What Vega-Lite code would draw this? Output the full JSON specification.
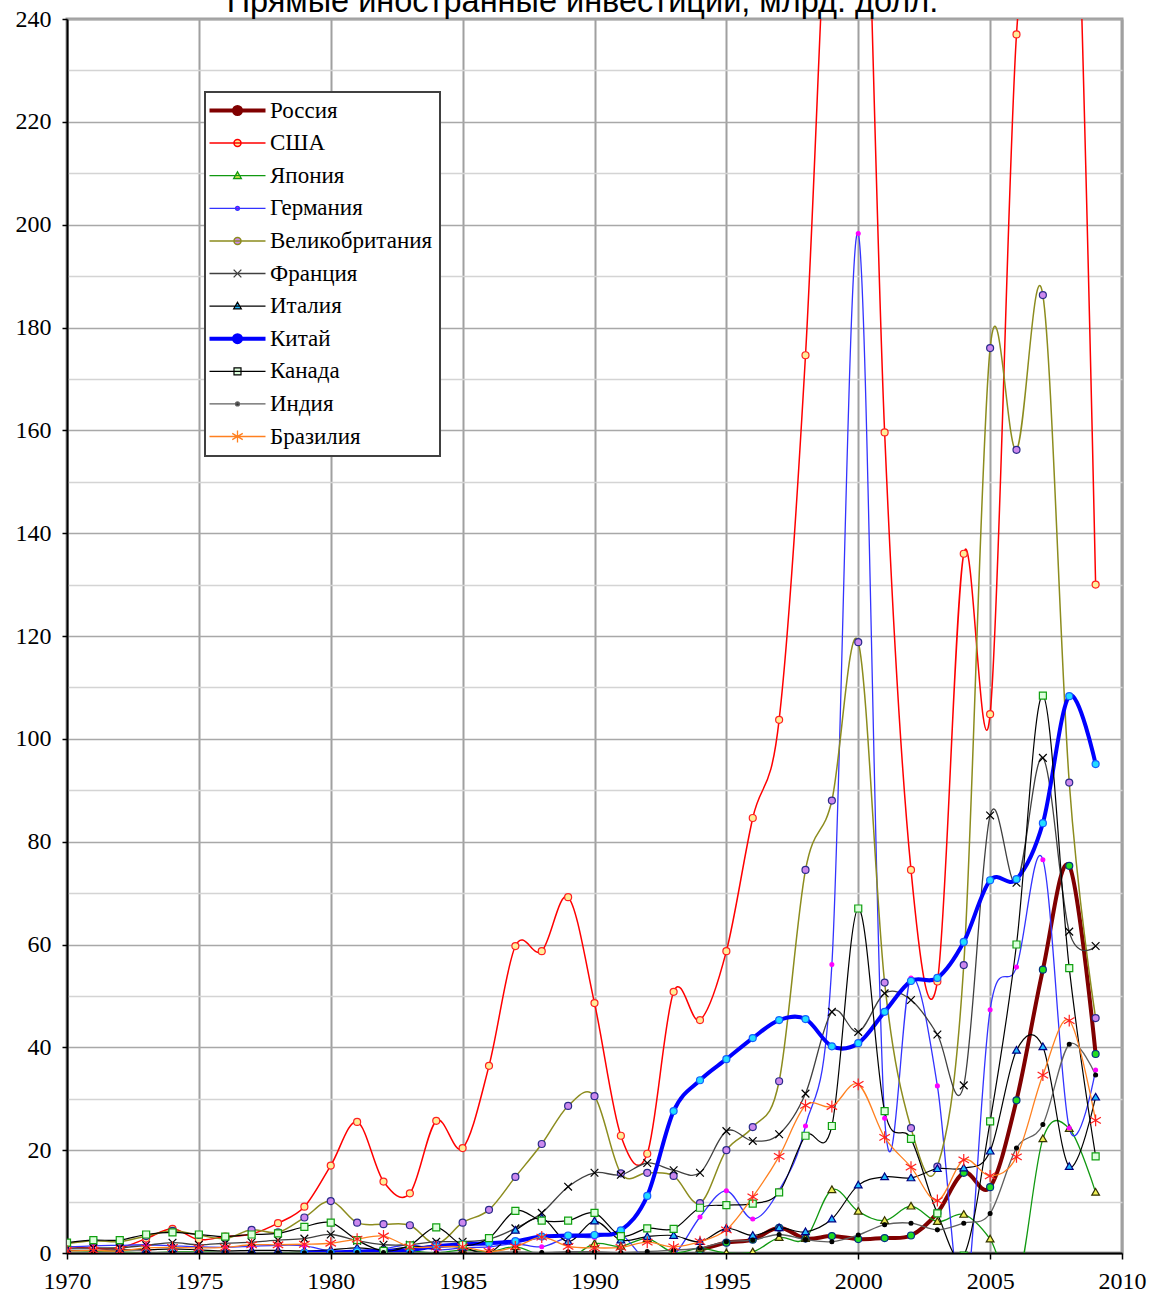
{
  "$schema": "https://vega.github.io/schema/vega-lite/v6.json",
  "width": 1055,
  "height": 1234,
  "autosize": {"type": "none"},
  "padding": {"left": 67, "top": 19, "right": 29, "bottom": 43},
  "background": "white",
  "config": {
    "view": {"stroke": "#a0a0a0", "strokeWidth": 3},
    "axis": {"labelFont": "Liberation Serif", "labelFontSize": 24, "labelColor": "#000000", "domainColor": "#000000", "domainWidth": 2, "tickColor": "#000000", "title": null}
  },
  "resolve": {"scale": {"shape": "independent"}},
  "data": {"values": [
    {"country":"Россия","year":1994,"value":0.6},{"country":"Россия","year":1995,"value":2.0},{"country":"Россия","year":1996,"value":2.6},{"country":"Россия","year":1997,"value":4.9},{"country":"Россия","year":1998,"value":2.8},{"country":"Россия","year":1999,"value":3.3},{"country":"Россия","year":2000,"value":2.7},{"country":"Россия","year":2001,"value":2.9},{"country":"Россия","year":2002,"value":3.4},{"country":"Россия","year":2003,"value":7.8},{"country":"Россия","year":2004,"value":15.6},{"country":"Россия","year":2005,"value":12.8},{"country":"Россия","year":2006,"value":29.7},{"country":"Россия","year":2007,"value":55.1},{"country":"Россия","year":2008,"value":75.3},{"country":"Россия","year":2009,"value":38.7},

    {"country":"США","year":1970,"value":1.3},{"country":"США","year":1971,"value":0.9},{"country":"США","year":1972,"value":1.0},{"country":"США","year":1973,"value":2.8},{"country":"США","year":1974,"value":4.7},{"country":"США","year":1975,"value":2.6},{"country":"США","year":1976,"value":3.2},{"country":"США","year":1977,"value":3.7},{"country":"США","year":1978,"value":5.8},{"country":"США","year":1979,"value":9.0},{"country":"США","year":1980,"value":17.0},{"country":"США","year":1981,"value":25.5},{"country":"США","year":1982,"value":13.9},{"country":"США","year":1983,"value":11.6},{"country":"США","year":1984,"value":25.7},{"country":"США","year":1985,"value":20.4},{"country":"США","year":1986,"value":36.4},{"country":"США","year":1987,"value":59.7},{"country":"США","year":1988,"value":58.7},{"country":"США","year":1989,"value":69.2},{"country":"США","year":1990,"value":48.6},{"country":"США","year":1991,"value":22.8},{"country":"США","year":1992,"value":19.3},{"country":"США","year":1993,"value":50.8},{"country":"США","year":1994,"value":45.3},{"country":"США","year":1995,"value":58.7},{"country":"США","year":1996,"value":84.6},{"country":"США","year":1997,"value":103.7},{"country":"США","year":1998,"value":174.6},{"country":"США","year":1999,"value":283},{"country":"США","year":2000,"value":314},{"country":"США","year":2001,"value":159.6},{"country":"США","year":2002,"value":74.5},{"country":"США","year":2003,"value":52.8},{"country":"США","year":2004,"value":136.0},{"country":"США","year":2005,"value":104.8},{"country":"США","year":2006,"value":237.0},{"country":"США","year":2007,"value":266},{"country":"США","year":2008,"value":310},{"country":"США","year":2009,"value":130.0},

    {"country":"Япония","year":1970,"value":0.1},{"country":"Япония","year":1971,"value":0.2},{"country":"Япония","year":1972,"value":0.2},{"country":"Япония","year":1973,"value":0.0},{"country":"Япония","year":1974,"value":0.2},{"country":"Япония","year":1975,"value":0.2},{"country":"Япония","year":1976,"value":0.1},{"country":"Япония","year":1977,"value":0.0},{"country":"Япония","year":1978,"value":0.0},{"country":"Япония","year":1979,"value":0.2},{"country":"Япония","year":1980,"value":0.3},{"country":"Япония","year":1981,"value":0.2},{"country":"Япония","year":1982,"value":0.4},{"country":"Япония","year":1983,"value":0.4},{"country":"Япония","year":1984,"value":0.0},{"country":"Япония","year":1985,"value":0.6},{"country":"Япония","year":1986,"value":0.2},{"country":"Япония","year":1987,"value":1.2},{"country":"Япония","year":1988,"value":-0.5},{"country":"Япония","year":1989,"value":-1.1},{"country":"Япония","year":1990,"value":1.8},{"country":"Япония","year":1991,"value":1.3},{"country":"Япония","year":1992,"value":2.8},{"country":"Япония","year":1993,"value":0.1},{"country":"Япония","year":1994,"value":0.9},{"country":"Япония","year":1995,"value":0.0},{"country":"Япония","year":1996,"value":0.2},{"country":"Япония","year":1997,"value":3.0},{"country":"Япония","year":1998,"value":2.8},{"country":"Япония","year":1999,"value":12.3},{"country":"Япония","year":2000,"value":8.1},{"country":"Япония","year":2001,"value":6.3},{"country":"Япония","year":2002,"value":9.1},{"country":"Япония","year":2003,"value":6.1},{"country":"Япония","year":2004,"value":7.5},{"country":"Япония","year":2005,"value":2.7},{"country":"Япония","year":2006,"value":-6.5},{"country":"Япония","year":2007,"value":22.2},{"country":"Япония","year":2008,"value":24.2},{"country":"Япония","year":2009,"value":11.8},

    {"country":"Германия","year":1970,"value":1.2},{"country":"Германия","year":1971,"value":1.4},{"country":"Германия","year":1972,"value":1.5},{"country":"Германия","year":1973,"value":1.6},{"country":"Германия","year":1974,"value":1.4},{"country":"Германия","year":1975,"value":1.2},{"country":"Германия","year":1976,"value":1.1},{"country":"Германия","year":1977,"value":1.3},{"country":"Германия","year":1978,"value":1.5},{"country":"Германия","year":1979,"value":1.4},{"country":"Германия","year":1980,"value":0.4},{"country":"Германия","year":1981,"value":0.4},{"country":"Германия","year":1982,"value":0.8},{"country":"Германия","year":1983,"value":1.6},{"country":"Германия","year":1984,"value":0.6},{"country":"Германия","year":1985,"value":1.0},{"country":"Германия","year":1986,"value":1.2},{"country":"Германия","year":1987,"value":1.8},{"country":"Германия","year":1988,"value":1.2},{"country":"Германия","year":1989,"value":3.0},{"country":"Германия","year":1990,"value":3.0},{"country":"Германия","year":1991,"value":3.6},{"country":"Германия","year":1992,"value":-1.4},{"country":"Германия","year":1993,"value":-0.4},{"country":"Германия","year":1994,"value":7.0},{"country":"Германия","year":1995,"value":12.1},{"country":"Германия","year":1996,"value":6.6},{"country":"Германия","year":1997,"value":12.2},{"country":"Германия","year":1998,"value":24.7},{"country":"Германия","year":1999,"value":56.1},{"country":"Германия","year":2000,"value":198.3},{"country":"Германия","year":2001,"value":26.2},{"country":"Германия","year":2002,"value":53.5},{"country":"Германия","year":2003,"value":32.5},{"country":"Германия","year":2004,"value":-10.2},{"country":"Германия","year":2005,"value":47.3},{"country":"Германия","year":2006,"value":55.6},{"country":"Германия","year":2007,"value":76.5},{"country":"Германия","year":2008,"value":24.3},{"country":"Германия","year":2009,"value":35.6},

    {"country":"Великобритания","year":1970,"value":1.8},{"country":"Великобритания","year":1971,"value":2.4},{"country":"Великобритания","year":1972,"value":2.2},{"country":"Великобритания","year":1973,"value":3.3},{"country":"Великобритания","year":1974,"value":4.3},{"country":"Великобритания","year":1975,"value":3.5},{"country":"Великобритания","year":1976,"value":2.8},{"country":"Великобритания","year":1977,"value":4.5},{"country":"Великобритания","year":1978,"value":4.0},{"country":"Великобритания","year":1979,"value":6.9},{"country":"Великобритания","year":1980,"value":10.1},{"country":"Великобритания","year":1981,"value":5.9},{"country":"Великобритания","year":1982,"value":5.6},{"country":"Великобритания","year":1983,"value":5.4},{"country":"Великобритания","year":1984,"value":1.8},{"country":"Великобритания","year":1985,"value":5.9},{"country":"Великобритания","year":1986,"value":8.4},{"country":"Великобритания","year":1987,"value":14.8},{"country":"Великобритания","year":1988,"value":21.2},{"country":"Великобритания","year":1989,"value":28.6},{"country":"Великобритания","year":1990,"value":30.5},{"country":"Великобритания","year":1991,"value":15.5},{"country":"Великобритания","year":1992,"value":15.6},{"country":"Великобритания","year":1993,"value":15.0},{"country":"Великобритания","year":1994,"value":9.7},{"country":"Великобритания","year":1995,"value":20.0},{"country":"Великобритания","year":1996,"value":24.5},{"country":"Великобритания","year":1997,"value":33.4},{"country":"Великобритания","year":1998,"value":74.5},{"country":"Великобритания","year":1999,"value":88.0},{"country":"Великобритания","year":2000,"value":118.8},{"country":"Великобритания","year":2001,"value":52.6},{"country":"Великобритания","year":2002,"value":24.3},{"country":"Великобритания","year":2003,"value":16.8},{"country":"Великобритания","year":2004,"value":56.0},{"country":"Великобритания","year":2005,"value":176.0},{"country":"Великобритания","year":2006,"value":156.2},{"country":"Великобритания","year":2007,"value":186.3},{"country":"Великобритания","year":2008,"value":91.5},{"country":"Великобритания","year":2009,"value":45.7},

    {"country":"Франция","year":1970,"value":0.9},{"country":"Франция","year":1971,"value":1.0},{"country":"Франция","year":1972,"value":1.0},{"country":"Франция","year":1973,"value":1.5},{"country":"Франция","year":1974,"value":2.0},{"country":"Франция","year":1975,"value":1.6},{"country":"Франция","year":1976,"value":1.9},{"country":"Франция","year":1977,"value":2.1},{"country":"Франция","year":1978,"value":2.5},{"country":"Франция","year":1979,"value":2.8},{"country":"Франция","year":1980,"value":3.6},{"country":"Франция","year":1981,"value":2.4},{"country":"Франция","year":1982,"value":1.6},{"country":"Франция","year":1983,"value":1.6},{"country":"Франция","year":1984,"value":2.2},{"country":"Франция","year":1985,"value":2.2},{"country":"Франция","year":1986,"value":2.7},{"country":"Франция","year":1987,"value":4.8},{"country":"Франция","year":1988,"value":7.8},{"country":"Франция","year":1989,"value":12.9},{"country":"Франция","year":1990,"value":15.6},{"country":"Франция","year":1991,"value":15.2},{"country":"Франция","year":1992,"value":17.5},{"country":"Франция","year":1993,"value":16.1},{"country":"Франция","year":1994,"value":15.6},{"country":"Франция","year":1995,"value":23.7},{"country":"Франция","year":1996,"value":21.8},{"country":"Франция","year":1997,"value":23.1},{"country":"Франция","year":1998,"value":31.0},{"country":"Франция","year":1999,"value":46.9},{"country":"Франция","year":2000,"value":43.0},{"country":"Франция","year":2001,"value":50.5},{"country":"Франция","year":2002,"value":49.2},{"country":"Франция","year":2003,"value":42.5},{"country":"Франция","year":2004,"value":32.6},{"country":"Франция","year":2005,"value":85.1},{"country":"Франция","year":2006,"value":72.0},{"country":"Франция","year":2007,"value":96.3},{"country":"Франция","year":2008,"value":62.5},{"country":"Франция","year":2009,"value":59.7},

    {"country":"Италия","year":1970,"value":0.5},{"country":"Италия","year":1971,"value":0.5},{"country":"Италия","year":1972,"value":0.6},{"country":"Италия","year":1973,"value":0.6},{"country":"Италия","year":1974,"value":0.8},{"country":"Италия","year":1975,"value":0.6},{"country":"Италия","year":1976,"value":0.4},{"country":"Италия","year":1977,"value":0.5},{"country":"Италия","year":1978,"value":0.5},{"country":"Италия","year":1979,"value":0.4},{"country":"Италия","year":1980,"value":0.6},{"country":"Италия","year":1981,"value":1.0},{"country":"Италия","year":1982,"value":0.6},{"country":"Италия","year":1983,"value":1.2},{"country":"Италия","year":1984,"value":1.3},{"country":"Италия","year":1985,"value":1.1},{"country":"Италия","year":1986,"value":0.0},{"country":"Италия","year":1987,"value":4.4},{"country":"Италия","year":1988,"value":6.8},{"country":"Италия","year":1989,"value":2.2},{"country":"Италия","year":1990,"value":6.2},{"country":"Италия","year":1991,"value":2.5},{"country":"Италия","year":1992,"value":3.2},{"country":"Италия","year":1993,"value":3.4},{"country":"Италия","year":1994,"value":2.2},{"country":"Италия","year":1995,"value":4.8},{"country":"Италия","year":1996,"value":3.4},{"country":"Италия","year":1997,"value":4.9},{"country":"Италия","year":1998,"value":4.1},{"country":"Италия","year":1999,"value":6.6},{"country":"Италия","year":2000,"value":13.2},{"country":"Италия","year":2001,"value":14.8},{"country":"Италия","year":2002,"value":14.6},{"country":"Италия","year":2003,"value":16.4},{"country":"Италия","year":2004,"value":16.5},{"country":"Италия","year":2005,"value":19.8},{"country":"Италия","year":2006,"value":39.4},{"country":"Италия","year":2007,"value":40.1},{"country":"Италия","year":2008,"value":16.8},{"country":"Италия","year":2009,"value":30.3},

    {"country":"Китай","year":1979,"value":0.1},{"country":"Китай","year":1980,"value":0.1},{"country":"Китай","year":1981,"value":0.3},{"country":"Китай","year":1982,"value":0.4},{"country":"Китай","year":1983,"value":0.6},{"country":"Китай","year":1984,"value":1.3},{"country":"Китай","year":1985,"value":1.7},{"country":"Китай","year":1986,"value":1.9},{"country":"Китай","year":1987,"value":2.3},{"country":"Китай","year":1988,"value":3.2},{"country":"Китай","year":1989,"value":3.4},{"country":"Китай","year":1990,"value":3.5},{"country":"Китай","year":1991,"value":4.4},{"country":"Китай","year":1992,"value":11.1},{"country":"Китай","year":1993,"value":27.6},{"country":"Китай","year":1994,"value":33.6},{"country":"Китай","year":1995,"value":37.7},{"country":"Китай","year":1996,"value":41.8},{"country":"Китай","year":1997,"value":45.3},{"country":"Китай","year":1998,"value":45.5},{"country":"Китай","year":1999,"value":40.2},{"country":"Китай","year":2000,"value":40.8},{"country":"Китай","year":2001,"value":46.9},{"country":"Китай","year":2002,"value":52.9},{"country":"Китай","year":2003,"value":53.5},{"country":"Китай","year":2004,"value":60.5},{"country":"Китай","year":2005,"value":72.5},{"country":"Китай","year":2006,"value":72.7},{"country":"Китай","year":2007,"value":83.6},{"country":"Китай","year":2008,"value":108.3},{"country":"Китай","year":2009,"value":95.1},

    {"country":"Канада","year":1970,"value":2.0},{"country":"Канада","year":1971,"value":2.5},{"country":"Канада","year":1972,"value":2.5},{"country":"Канада","year":1973,"value":3.6},{"country":"Канада","year":1974,"value":4.0},{"country":"Канада","year":1975,"value":3.6},{"country":"Канада","year":1976,"value":3.2},{"country":"Канада","year":1977,"value":3.6},{"country":"Канада","year":1978,"value":3.8},{"country":"Канада","year":1979,"value":5.1},{"country":"Канада","year":1980,"value":5.9},{"country":"Канада","year":1981,"value":2.5},{"country":"Канада","year":1982,"value":0.4},{"country":"Канада","year":1983,"value":1.5},{"country":"Канада","year":1984,"value":5.0},{"country":"Канада","year":1985,"value":1.6},{"country":"Канада","year":1986,"value":2.9},{"country":"Канада","year":1987,"value":8.2},{"country":"Канада","year":1988,"value":6.3},{"country":"Канада","year":1989,"value":6.3},{"country":"Канада","year":1990,"value":7.8},{"country":"Канада","year":1991,"value":3.3},{"country":"Канада","year":1992,"value":4.8},{"country":"Канада","year":1993,"value":4.7},{"country":"Канада","year":1994,"value":8.8},{"country":"Канада","year":1995,"value":9.3},{"country":"Канада","year":1996,"value":9.6},{"country":"Канада","year":1997,"value":11.8},{"country":"Канада","year":1998,"value":22.8},{"country":"Канада","year":1999,"value":24.7},{"country":"Канада","year":2000,"value":67.0},{"country":"Канада","year":2001,"value":27.6},{"country":"Канада","year":2002,"value":22.2},{"country":"Канада","year":2003,"value":7.7},{"country":"Канада","year":2004,"value":-0.5},{"country":"Канада","year":2005,"value":25.6},{"country":"Канада","year":2006,"value":60.0},{"country":"Канада","year":2007,"value":108.4},{"country":"Канада","year":2008,"value":55.4},{"country":"Канада","year":2009,"value":18.8},

    {"country":"Индия","year":1970,"value":0.05},{"country":"Индия","year":1971,"value":0.05},{"country":"Индия","year":1972,"value":0.04},{"country":"Индия","year":1973,"value":0.04},{"country":"Индия","year":1974,"value":0.06},{"country":"Индия","year":1975,"value":0.08},{"country":"Индия","year":1976,"value":0.06},{"country":"Индия","year":1977,"value":0.05},{"country":"Индия","year":1978,"value":0.04},{"country":"Индия","year":1979,"value":0.05},{"country":"Индия","year":1980,"value":0.08},{"country":"Индия","year":1981,"value":0.09},{"country":"Индия","year":1982,"value":0.07},{"country":"Индия","year":1983,"value":0.06},{"country":"Индия","year":1984,"value":0.02},{"country":"Индия","year":1985,"value":0.1},{"country":"Индия","year":1986,"value":0.12},{"country":"Индия","year":1987,"value":0.2},{"country":"Индия","year":1988,"value":0.09},{"country":"Индия","year":1989,"value":0.25},{"country":"Индия","year":1990,"value":0.24},{"country":"Индия","year":1991,"value":0.07},{"country":"Индия","year":1992,"value":0.28},{"country":"Индия","year":1993,"value":0.55},{"country":"Индия","year":1994,"value":0.97},{"country":"Индия","year":1995,"value":2.2},{"country":"Индия","year":1996,"value":2.5},{"country":"Индия","year":1997,"value":3.6},{"country":"Индия","year":1998,"value":2.6},{"country":"Индия","year":1999,"value":2.2},{"country":"Индия","year":2000,"value":3.5},{"country":"Индия","year":2001,"value":5.5},{"country":"Индия","year":2002,"value":5.8},{"country":"Индия","year":2003,"value":4.5},{"country":"Индия","year":2004,"value":5.8},{"country":"Индия","year":2005,"value":7.7},{"country":"Индия","year":2006,"value":20.4},{"country":"Индия","year":2007,"value":25.0},{"country":"Индия","year":2008,"value":40.6},{"country":"Индия","year":2009,"value":34.6},

    {"country":"Бразилия","year":1970,"value":0.4},{"country":"Бразилия","year":1971,"value":0.5},{"country":"Бразилия","year":1972,"value":0.4},{"country":"Бразилия","year":1973,"value":1.0},{"country":"Бразилия","year":1974,"value":1.1},{"country":"Бразилия","year":1975,"value":1.0},{"country":"Бразилия","year":1976,"value":1.1},{"country":"Бразилия","year":1977,"value":1.6},{"country":"Бразилия","year":1978,"value":1.6},{"country":"Бразилия","year":1979,"value":1.7},{"country":"Бразилия","year":1980,"value":1.9},{"country":"Бразилия","year":1981,"value":2.7},{"country":"Бразилия","year":1982,"value":3.3},{"country":"Бразилия","year":1983,"value":1.2},{"country":"Бразилия","year":1984,"value":1.2},{"country":"Бразилия","year":1985,"value":1.2},{"country":"Бразилия","year":1986,"value":0.3},{"country":"Бразилия","year":1987,"value":1.2},{"country":"Бразилия","year":1988,"value":3.1},{"country":"Бразилия","year":1989,"value":1.3},{"country":"Бразилия","year":1990,"value":1.0},{"country":"Бразилия","year":1991,"value":1.1},{"country":"Бразилия","year":1992,"value":2.1},{"country":"Бразилия","year":1993,"value":1.2},{"country":"Бразилия","year":1994,"value":2.2},{"country":"Бразилия","year":1995,"value":4.5},{"country":"Бразилия","year":1996,"value":10.9},{"country":"Бразилия","year":1997,"value":18.8},{"country":"Бразилия","year":1998,"value":28.7},{"country":"Бразилия","year":1999,"value":28.5},{"country":"Бразилия","year":2000,"value":32.8},{"country":"Бразилия","year":2001,"value":22.5},{"country":"Бразилия","year":2002,"value":16.7},{"country":"Бразилия","year":2003,"value":10.2},{"country":"Бразилия","year":2004,"value":18.1},{"country":"Бразилия","year":2005,"value":15.0},{"country":"Бразилия","year":2006,"value":18.7},{"country":"Бразилия","year":2007,"value":34.6},{"country":"Бразилия","year":2008,"value":45.2},{"country":"Бразилия","year":2009,"value":25.8}
  ]},
  "encoding": {
    "x": {"field": "year", "type": "quantitative", "scale": {"domain": [1970, 2010], "nice": false, "zero": false},
      "axis": {"orient": "bottom", "values": [1970, 1975, 1980, 1985, 1990, 1995, 2000, 2005, 2010], "format": "d", "grid": true, "gridColor": "#a0a0a0", "gridWidth": 2, "tickSize": 6, "tickWidth": 1.5, "labelPadding": 10, "labelFlush": false, "zindex": 0}},
    "y": {"field": "value", "type": "quantitative", "scale": {"domain": [0, 240], "nice": false, "zero": false},
      "axis": {"values": [0, 10, 20, 30, 40, 50, 60, 70, 80, 90, 100, 110, 120, 130, 140, 150, 160, 170, 180, 190, 200, 210, 220, 230, 240],
        "labelExpr": "datum.value % 20 === 0 ? datum.label : ''",
        "grid": true,
        "gridColor": {"condition": {"test": "datum.value % 20 === 0", "value": "#a8a8a8"}, "value": "#d4d4d4"},
        "gridWidth": 1.6,
        "tickSize": 5, "tickWidth": 1.5,
        "tickColor": {"condition": {"test": "datum.value % 20 === 0", "value": "#000000"}, "value": "transparent"},
        "labelPadding": 11, "zindex": 0}}
  },
  "layer": [
    {
      "mark": {"type": "line", "interpolate": "cardinal", "clip": true},
      "encoding": {
        "color": {"field": "country", "type": "nominal",
          "scale": {"domain": ["Россия","США","Япония","Германия","Великобритания","Франция","Италия","Китай","Канада","Индия","Бразилия"],
                    "range": ["#800000","#ff0000","#119911","#3333ff","#8c8c1e","#404040","#000000","#0000ff","#000000","#606060","#ff8020"]},
          "legend": {"orient": "none", "legendX": 138, "legendY": 73, "title": null,
            "symbolSize": 49, "symbolOffset": 14, "labelOffset": 21,
            "labelFont": "Liberation Serif", "labelFontSize": 23, "labelColor": "#000000", "labelLimit": 300,
            "rowPadding": 8.6, "padding": 7, "fillColor": "#ffffff", "strokeColor": "#404040", "symbolLimit": 0,
            "encode": {
              "legend": {"update": {"strokeWidth": {"value": 2}}},
              "symbols": {"update": {
                "shape": {"signal": "['M-8,0L8,0M-1,0A1,1,0,1,0,1,0A1,1,0,1,0,-1,0Z','M-8,0L8,0M-1,0A1,1,0,1,0,1,0A1,1,0,1,0,-1,0Z','M-8,0L8,0M0,-1.1L1.1,0.8L-1.1,0.8Z','M-8,0L8,0M-0.55,0A0.55,0.55,0,1,0,0.55,0A0.55,0.55,0,1,0,-0.55,0Z','M-8,0L8,0M-1,0A1,1,0,1,0,1,0A1,1,0,1,0,-1,0Z','M-8,0L8,0M-1.1,-1.1L1.1,1.1M-1.1,1.1L1.1,-1.1','M-8,0L8,0M0,-1.1L1.1,0.8L-1.1,0.8Z','M-8,0L8,0M-1,0A1,1,0,1,0,1,0A1,1,0,1,0,-1,0Z','M-8,0L8,0M-1,-1H1V1H-1Z','M-8,0L8,0M-0.55,0A0.55,0.55,0,1,0,0.55,0A0.55,0.55,0,1,0,-0.55,0Z','M-8,0L8,0M0,-1.7V1.7M-1.5,-0.9L1.5,0.9M-1.5,0.9L1.5,-0.9'][indexof(['Россия','США','Япония','Германия','Великобритания','Франция','Италия','Китай','Канада','Индия','Бразилия'], datum.value)]"},
                "opacity": {"value": 1}
              }}
            }}},
        "strokeWidth": {"field": "country", "type": "nominal", "legend": null,
          "scale": {"type": "ordinal", "domain": ["Россия","США","Япония","Германия","Великобритания","Франция","Италия","Китай","Канада","Индия","Бразилия"],
                    "range": [4, 1.5, 1.3, 1.3, 1.5, 1.3, 1.2, 4, 1.2, 1.3, 1.3]}}
      }
    },
    {
      "mark": {"type": "point", "filled": true, "size": 49, "strokeWidth": 1.2, "opacity": 1, "clip": true},
      "encoding": {
        "x": {"field": "year", "type": "quantitative",
          "axis": {"orient": "top", "labels": false, "ticks": false, "domain": false, "grid": false,
            "title": "Прямые иностранные инвестиции, млрд. долл.", "titleFont": "Liberation Sans", "titleFontSize": 32.5, "titleFontWeight": "normal", "titleColor": "#000000",
            "titleX": 515, "titleY": -8, "titleAlign": "center", "titleBaseline": "alphabetic", "titleAngle": 0}},
        "shape": {"field": "country", "type": "nominal", "legend": null,
          "scale": {"domain": ["Россия","США","Япония","Германия","Великобритания","Франция","Италия","Китай","Канада","Индия","Бразилия"],
                    "range": [
                      "M-1,0A1,1,0,1,0,1,0A1,1,0,1,0,-1,0Z",
                      "M-1,0A1,1,0,1,0,1,0A1,1,0,1,0,-1,0Z",
                      "M0,-1.1L1.1,0.8L-1.1,0.8Z",
                      "M-0.55,0A0.55,0.55,0,1,0,0.55,0A0.55,0.55,0,1,0,-0.55,0Z",
                      "M-1,0A1,1,0,1,0,1,0A1,1,0,1,0,-1,0Z",
                      "M-1.1,-1.1L1.1,1.1M-1.1,1.1L1.1,-1.1",
                      "M0,-1.1L1.1,0.8L-1.1,0.8Z",
                      "M-1,0A1,1,0,1,0,1,0A1,1,0,1,0,-1,0Z",
                      "M-1,-1H1V1H-1Z",
                      "M-0.55,0A0.55,0.55,0,1,0,0.55,0A0.55,0.55,0,1,0,-0.55,0Z",
                      "M0,-1.7V1.7M-1.5,-0.9L1.5,0.9M-1.5,0.9L1.5,-0.9"
                    ]}},
        "fill": {"field": "country", "type": "nominal", "legend": null,
          "scale": {"domain": ["Россия","США","Япония","Германия","Великобритания","Франция","Италия","Китай","Канада","Индия","Бразилия"],
                    "range": ["#22dd22","#ffee99","#eeee55","#ff00ff","#cc88ee","transparent","#22bbff","#22ddff","#ddffdd","#000000","transparent"]}},
        "stroke": {"field": "country", "type": "nominal", "legend": null,
          "scale": {"domain": ["Россия","США","Япония","Германия","Великобритания","Франция","Италия","Китай","Канада","Индия","Бразилия"],
                    "range": ["#003380","#ff2020","#333300","#ff00ff","#2a2a8a","#000000","#000080","#1060ff","#10a010","#000000","#ff2020"]}}
      }
    }
  ]
}
